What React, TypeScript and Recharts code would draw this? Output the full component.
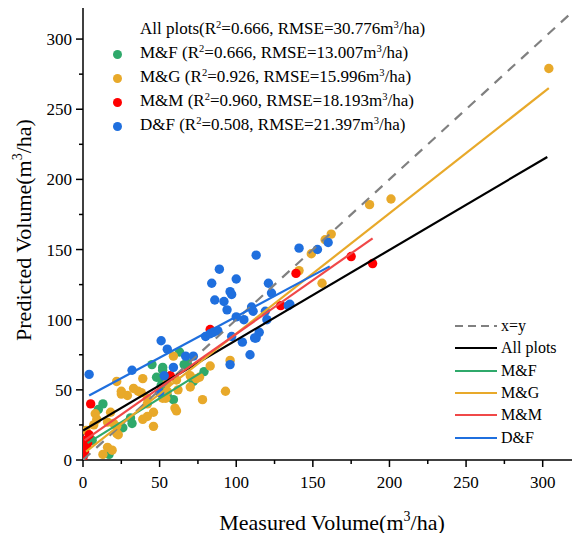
import { ScatterChart, Scatter, XAxis, YAxis, ReferenceLine } from "recharts";

// measured (x) vs predicted (y), m3/ha
const mfPoints = [
  [17, 4], [6, 14], [10, 36], [13, 40], [26, 23], [32, 26], [31, 30], [45, 68], [52, 66], [48, 59],
  [51, 53], [52, 49], [55, 46], [63, 77], [66, 68], [68, 69], [72, 56], [79, 63], [52, 64], [51, 58], [59, 43],
];
const mgPoints = [
  [304, 279], [201, 186], [187, 182], [162, 161], [158, 157], [149, 147], [141, 135], [156, 126],
  [22, 56], [25, 49], [39, 58], [33, 51], [36, 49], [38, 48], [42, 44], [42, 40], [46, 34], [54, 44],
  [8, 33], [9, 29], [7, 25], [18, 34], [16, 27], [20, 26], [22, 24], [22, 19], [23, 18], [42, 31],
  [39, 29], [46, 24], [2, 21], [16, 9], [19, 7], [13, 4], [25, 47], [29, 46],
  [59, 74], [96, 71], [83, 67], [70, 60], [74, 58], [76, 59], [61, 57], [55, 55], [55, 49], [62, 50],
  [70, 52], [93, 49], [52, 44], [78, 43], [60, 37], [61, 35],
];
const mmPoints = [
  [0, 2], [1, 6], [2, 10], [3, 12], [0, 14], [4, 18], [5, 40], [57, 60], [83, 93], [129, 110],
  [139, 133], [175, 145], [189, 140],
];
const dfPoints = [
  [4, 61], [32, 64], [53, 60], [51, 85], [55, 79], [59, 66], [67, 74], [50, 48], [72, 74],
  [80, 88], [85, 91], [88, 92], [97, 88], [104, 84], [112, 87], [109, 75], [96, 68],
  [113, 146], [89, 136], [84, 126], [100, 129], [96, 120], [97, 118], [121, 126], [123, 119],
  [86, 114], [92, 113], [94, 107], [110, 109], [111, 106], [119, 106], [120, 100], [134, 110],
  [100, 102], [105, 100], [115, 91], [113, 87], [83, 90],
  [141, 151], [153, 150], [160, 155], [135, 111],
];

// fitted lines (start, end)
const lineXY = [[0, 0], [325, 325]];
const lineAll = [[0, 21], [303, 216]];
const lineMF = [[3, 12], [78, 63]];
const lineMG = [[2, 6], [304, 265]];
const lineMM = [[1, 14], [189, 158]];
const lineDF = [[4, 46], [161, 138]];

const xTicks = [0, 25, 50, 75, 100, 125, 150, 175, 200, 225, 250, 275, 300];
const yTicks = [0, 25, 50, 75, 100, 125, 150, 175, 200, 225, 250, 275, 300];

const GREEN = "#2fa96b";
const ORANGE = "#e8a92a";
const RED = "#ff0000";
const BLUE = "#1f6fde";
const FONT = "'Liberation Serif', 'Times New Roman', serif";

const toObj = (arr: number[][]) => arr.map(([x, y]) => ({ x, y }));

const dot = (color: string) => (p: any) => <circle cx={p.cx} cy={p.cy} r={4.7} fill={color} />;
const noDot = () => <g />;

function XTick(props: any) {
  const { x, y, payload } = props;
  const major = payload.value % 50 === 0;
  return (
    <g>
      <line x1={x} y1={y} x2={x} y2={y + (major ? 7 : 4)} stroke="#000" strokeWidth={1.5} />
      {major && (
        <text x={x} y={y + 28} textAnchor="middle" fontSize={17} fill="#000" style={{ fontFamily: FONT }}>
          {payload.value}
        </text>
      )}
    </g>
  );
}

function YTick(props: any) {
  const { x, y, payload } = props;
  const major = payload.value % 50 === 0;
  return (
    <g>
      <line x1={x - (major ? 7 : 4)} y1={y} x2={x} y2={y} stroke="#000" strokeWidth={1.5} />
      {major && (
        <text x={x - 11} y={y + 6} textAnchor="end" fontSize={17} fill="#000" style={{ fontFamily: FONT }}>
          {payload.value}
        </text>
      )}
    </g>
  );
}

const sup = (s: string) => (
  <span style={{ fontSize: "0.62em", position: "relative", top: "-0.55em" }}>{s}</span>
);

const topLegend = [
  { color: null, name: "All plots(R", r2: "=0.666, RMSE=30.776m", tail: "/ha)" },
  { color: GREEN, name: "M&F (R", r2: "=0.666, RMSE=13.007m", tail: "/ha)" },
  { color: ORANGE, name: "M&G (R", r2: "=0.926, RMSE=15.996m", tail: "/ha)" },
  { color: RED, name: "M&M (R", r2: "=0.960, RMSE=18.193m", tail: "/ha)" },
  { color: BLUE, name: "D&F (R", r2: "=0.508, RMSE=21.397m", tail: "/ha)" },
];

const lineLegend = [
  { name: "x=y", color: "#808080", dash: true },
  { name: "All plots", color: "#000" },
  { name: "M&F", color: GREEN },
  { name: "M&G", color: ORANGE },
  { name: "M&M", color: "#f04848" },
  { name: "D&F", color: BLUE },
];

export default function App() {
  return (
    <div style={{ position: "relative", margin: -8, width: 580, height: 541, overflow: "hidden", background: "#fff" }}>
      <ScatterChart width={582} height={541} margin={{ top: 4, right: 1, bottom: 0, left: 0 }}>
        <XAxis
          type="number"
          dataKey="x"
          domain={[0, 325]}
          ticks={xTicks}
          interval={0}
          height={81}
          tickSize={0}
          tickMargin={0}
          tickLine={false}
          tick={<XTick />}
          axisLine={{ stroke: "#000", strokeWidth: 1.5 }}
          allowDataOverflow
          label={{
            content: (p: any) => {
              const vb = p.viewBox;
              return (
                <text x={vb.x + vb.width / 2} y={vb.y + 70} textAnchor="middle" fontSize={22} fill="#000" style={{ fontFamily: FONT }}>
                  Measured Volume(m<tspan dy={-9} fontSize={14}>3</tspan>
                  <tspan dy={9}>/ha)</tspan>
                </text>
              );
            },
          }}
        />
        <YAxis
          type="number"
          dataKey="y"
          domain={[0, 325]}
          ticks={yTicks}
          interval={0}
          width={83}
          tickSize={0}
          tickMargin={0}
          tickLine={false}
          tick={<YTick />}
          axisLine={{ stroke: "#000", strokeWidth: 1.5 }}
          allowDataOverflow
          label={{
            content: () => (
              <text
                x={31}
                y={230}
                transform="rotate(-90, 31, 230)"
                textAnchor="middle"
                fontSize={22}
                fill="#000"
                style={{ fontFamily: FONT }}
              >
                Predicted Volume(m<tspan dy={-9} fontSize={14}>3</tspan>
                <tspan dy={9}>/ha)</tspan>
              </text>
            ),
          }}
        />
        <ReferenceLine y={325} stroke="#000" strokeWidth={1.5} />
        <ReferenceLine x={325} stroke="#000" strokeWidth={1.5} />

        <Scatter data={toObj(mfPoints)} shape={dot(GREEN)} isAnimationActive={false} />
        <Scatter data={toObj(mgPoints)} shape={dot(ORANGE)} isAnimationActive={false} />
        <Scatter data={toObj(mmPoints)} shape={dot(RED)} isAnimationActive={false} />
        <Scatter data={toObj(dfPoints)} shape={dot(BLUE)} isAnimationActive={false} />

        <Scatter data={toObj(lineXY)} line={{ stroke: "#808080", strokeWidth: 2.2, strokeDasharray: "10 8" }} shape={noDot} isAnimationActive={false} />
        <Scatter data={toObj(lineAll)} line={{ stroke: "#000", strokeWidth: 2.2 }} shape={noDot} isAnimationActive={false} />
        <Scatter data={toObj(lineMF)} line={{ stroke: GREEN, strokeWidth: 2.2 }} shape={noDot} isAnimationActive={false} />
        <Scatter data={toObj(lineMG)} line={{ stroke: ORANGE, strokeWidth: 2.2 }} shape={noDot} isAnimationActive={false} />
        <Scatter data={toObj(lineMM)} line={{ stroke: "#f04848", strokeWidth: 2.2 }} shape={noDot} isAnimationActive={false} />
        <Scatter data={toObj(lineDF)} line={{ stroke: BLUE, strokeWidth: 2.2 }} shape={noDot} isAnimationActive={false} />
      </ScatterChart>

      <div style={{ position: "absolute", left: 108, top: 18, fontFamily: FONT, fontSize: 17, color: "#000" }}>
        {topLegend.map((r) => (
          <div key={r.name} style={{ height: 24, lineHeight: "24px", display: "flex", alignItems: "center", whiteSpace: "nowrap" }}>
            <span style={{ width: 32, display: "inline-block", position: "relative", height: 24 }}>
              {r.color && (
                <span style={{ position: "absolute", left: 4.5, top: 7.5, width: 9.4, height: 9.4, borderRadius: "50%", background: r.color }} />
              )}
            </span>
            <span>
              {r.name}
              {sup("2")}
              {r.r2}
              {sup("3")}
              {r.tail}
            </span>
          </div>
        ))}
      </div>

      <div style={{ position: "absolute", left: 455, top: 315, fontFamily: FONT, fontSize: 16, color: "#000" }}>
        {lineLegend.map((r) => (
          <div key={r.name} style={{ height: 22.3, lineHeight: "22px", display: "flex", alignItems: "center", whiteSpace: "nowrap" }}>
            <svg width={44} height={6} style={{ marginRight: 2 }}>
              <line x1={0} y1={3} x2={42} y2={3} stroke={r.color} strokeWidth={2.2} strokeDasharray={r.dash ? "8 5" : undefined} />
            </svg>
            <span>{r.name}</span>
          </div>
        ))}
      </div>
    </div>
  );
}
